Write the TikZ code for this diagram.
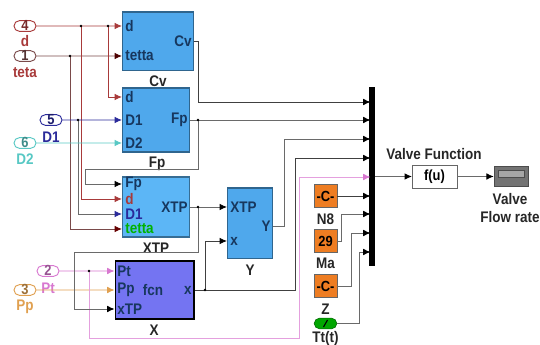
\documentclass[tikz,border=0pt]{standalone}
\usepackage{fontspec}
\setmainfont[FakeStretch=.88]{Liberation Sans}
\usetikzlibrary{positioning}
\usetikzlibrary{arrows.meta}
\usetikzlibrary{shapes.misc}
\definecolor{blockblue}{HTML}{4FA8EC}
\definecolor{xtpblue}{HTML}{5CB6F6}
\definecolor{xpurple}{HTML}{7474F2}
\definecolor{ink}{HTML}{17375E}
\definecolor{dred}{HTML}{A83A3A}
\definecolor{dblue}{HTML}{2A2A9A}
\definecolor{dcyan}{HTML}{58C8C4}
\definecolor{dpink}{HTML}{D878D0}
\definecolor{dorange}{HTML}{E0A050}
\definecolor{cbox}{HTML}{EE7D22}
\definecolor{lineg}{HTML}{6A6A6A}
\definecolor{brown}{HTML}{7A4A4A}
\tikzset{
  block/.style={draw=#1!60!black,fill=#1,line width=.8pt,inner sep=0},
  inport/.style={draw=#1,fill=white,rounded rectangle,minimum width=16.5pt,minimum height=8pt,
    inner sep=0,text height=6.5pt,text depth=0pt,text=#1!70!black,line width=.7pt,font=\bfseries\fontsize{11}{11}\selectfont},
  constbox/.style={draw=black!60,fill=cbox,minimum width=17pt,minimum height=17pt,inner sep=0,font=\bfseries\fontsize{11}{11}\selectfont},
  lbl/.style={font=\bfseries\fontsize{11.5}{14}\selectfont,inner sep=0,text=#1},
  lbl/.default=black!85,
  wire/.style={line width=.65pt,draw=#1},
  tip/.style={-{Latex[length=5.5pt,width=5pt,color=#1]}},
}
\begin{document}
\begin{tikzpicture}[x=.75pt,y=-.75pt]
\useasboundingbox (0,0) rectangle (540,345);
% blocks
\node[block=blockblue,minimum width=53.6pt,minimum height=44.2pt] (cv) at (158.2,41.5) {};
\node[block=blockblue,minimum width=50.6pt,minimum height=48pt] (fp) at (156.2,120) {};
\node[block=xtpblue,minimum width=50.6pt,minimum height=45pt] (xtp) at (156.2,207) {};
\node[block=xpurple,minimum width=59.2pt,minimum height=43.5pt,draw=black] (xb) at (154.5,290) {};
\node[block=blockblue,minimum width=34.1pt,minimum height=53.2pt] (yb) at (250.2,223.5) {};
\node[block=black,minimum width=3.4pt,minimum height=133pt] (mux) at (372,176.5) {};
\node[draw=black!60,fill=white,minimum width=33.5pt,minimum height=17pt,inner sep=0,font=\bfseries\fontsize{11}{11}\selectfont] (fu) at (434.5,176.5) {f(u)};
\node[draw=black!70,fill=black!55,minimum width=25.5pt,minimum height=15pt,inner sep=0] (scope) at (511,176.5) {};
\node[draw=black!70,fill=black!35,minimum width=19.5pt,minimum height=5.5pt,inner sep=0] (screen) at (511,173.5) {};
% inputs
\node[inport=dred] (in4) at (25,26) {4};
\node[inport=brown] (in1) at (25,56) {1};
\node[inport=dblue] (in5) at (51,120) {5};
\node[inport=dcyan] (in6) at (25,143) {6};
\node[inport=dpink] (in2) at (48,271) {2};
\node[inport=dorange] (in3) at (25,290) {3};
\node[lbl=dred] (lbld) at (25,41) {d};
\node[lbl=dred] (lblteta) at (25,73) {teta};
\node[lbl=dblue] (lbldone) at (51,137) {D1};
\node[lbl=dcyan] (lbldtwo) at (25,159) {D2};
\node[lbl=dpink] (lblpt) at (48,288) {Pt};
\node[lbl=dorange] (lblpp) at (25,307) {Pp};
% constants
\node[constbox] (neight) at (325.5,196) {-C-};
\node[constbox] (ma) at (325.5,241) {29};
\node[constbox] (zc) at (325.5,286) {-C-};
\node[draw=green!40!black,fill=green!65!black,rounded rectangle,minimum width=17pt,minimum height=8pt,inner sep=0] (clock) at (325.5,323.5) {};
\draw[line width=.8pt] (323.5,327) -- (327.5,320);
% block captions
\node[lbl] (capcv) at (158,81) {Cv};
\node[lbl] (capfp) at (157,164) {Fp};
\node[lbl] (capxtp) at (156,248) {XTP};
\node[lbl] (capx) at (154,330) {X};
\node[lbl] (capy) at (250,270) {Y};
\node[lbl] (capn) at (325.5,219) {N8};
\node[lbl] (capma) at (325.5,263) {Ma};
\node[lbl] (capz) at (325.5,309) {Z};
\node[lbl] (captt) at (325.5,339) {Tt(t)};
\node[lbl] (capvf) at (434,154) {Valve Function};
\node[lbl,align=center] (capvalve) at (510,208) {Valve\\Flow rate};
% port names
\tikzset{port/.style={lbl=ink,anchor=west}}
\node[port] (cvd) at (125,26) {d};
\node[port] (cvt) at (125,56) {tetta};
\node[port,anchor=east] (cvout) at (192,41) {Cv};
\node[port] (fpd) at (125,97) {d};
\node[port] (fpdone) at (125,120) {D1};
\node[port] (fpdtwo) at (125,143) {D2};
\node[port,anchor=east] (fpout) at (188,120) {Fp};
\node[port] (xfp) at (125,184) {Fp};
\node[lbl=dred,anchor=west] (xd) at (125,199) {d};
\node[lbl=dblue,anchor=west] (xdone) at (125,214) {D1};
\node[lbl=green!70!black,anchor=west] (xt) at (125,229) {tetta};
\node[port,anchor=east] (xout) at (188,207) {XTP};
\node[port] (bpt) at (117,271) {Pt};
\node[port] (bpp) at (117,290) {Pp};
\node[port] (bxtp) at (117,309) {xTP};
\node[lbl=ink] (bfcn) at (153,290) {fcn};
\node[port,anchor=east] (bout) at (192,290) {x};
\node[port] (yx) at (230,207) {XTP};
\node[port] (yin) at (230,241) {x};
\node[port,anchor=east] (yout) at (271,226) {Y};
% junctions and bends
\coordinate (j4a) at (81,26);
\coordinate (j4b) at (108,26);
\coordinate (j1) at (70,56);
\coordinate (j5) at (78,120);
\coordinate (jfp) at (198,120);
\coordinate (jxtp) at (198,207);
\coordinate (jx) at (205,290);
\coordinate (j2) at (89,271);
% mux inputs
\foreach \i/\yy in {1/102,2/120,3/139,4/158,5/177,6/196,7/214,8/233,9/252}
  \coordinate (m\i) at (370.5,\yy);
% wires from the inputs
\draw[wire=dred,tip=dred] (in4) -- (cv.west |- in4);
\draw[wire=brown,tip=black!70!red] (in1) -- (cv.west |- in1);
\draw[wire=dred,tip=dred] (j4b) |- (fp.west |- fpd);
\draw[wire=dred,tip=dred] (j4a) |- (xtp.west |- xd);
\draw[wire=brown,tip=black!60!red] (j1) |- (xtp.west |- xt);
\draw[wire=dblue,tip=dblue] (in5) -- (fp.west |- in5);
\draw[wire=lineg,tip=dblue] (j5) |- (xtp.west |- xdone);
\draw[wire=dcyan,tip=dcyan] (in6) -- (fp.west |- in6);
\draw[wire=dpink,tip=dpink] (in2) -- (xb.west |- in2);
\draw[wire=dorange,tip=dorange] (in3) -- (xb.west |- in3);
\draw[wire=dpink!70!white,tip=dpink] (j2) |- (299,338) |- (m5);
% wires between blocks
\draw[wire=black!75,tip=black] (cv.east |- cvout) -| (198,102) -- (m1);
\draw[wire=lineg,tip=black] (fp.east |- fpout) -- (m2);
\draw[wire=lineg,tip=black] (jfp) |- (85,169) |- (xtp.west |- xfp);
\draw[wire=lineg,tip=black] (xtp.east |- xout) -- (yb.west |- yx);
\draw[wire=lineg,tip=black] (jxtp) |- (74,252) |- (xb.west |- bxtp);
\draw[wire=black!75,tip=black] (jx) |- (yb.west |- yin);
\draw[wire=black!75,tip=black] (xb.east |- bout) -| (295,158) -- (m4);
\draw[wire=lineg,tip=black] (yb.east |- yout) -| (284,139) -- (m3);
\draw[wire=black!75,tip=black] (neight) -- (m6);
\draw[wire=lineg,tip=black] (ma) -| (341,214) -- (m7);
\draw[wire=lineg,tip=black] (zc) -| (351,233) -- (m8);
\draw[wire=lineg,tip=black] (clock) -| (359,252) -- (m9);
\draw[wire=lineg,tip=black] (mux.east |- fu) -- (fu);
\draw[wire=lineg,tip=black] (fu) -- (scope);
% dots
\foreach \p in {j4a,j4b,j1,j5,jfp,jxtp,jx,j2}
  \fill (\p) circle(1.3);
\end{tikzpicture}
\end{document}
